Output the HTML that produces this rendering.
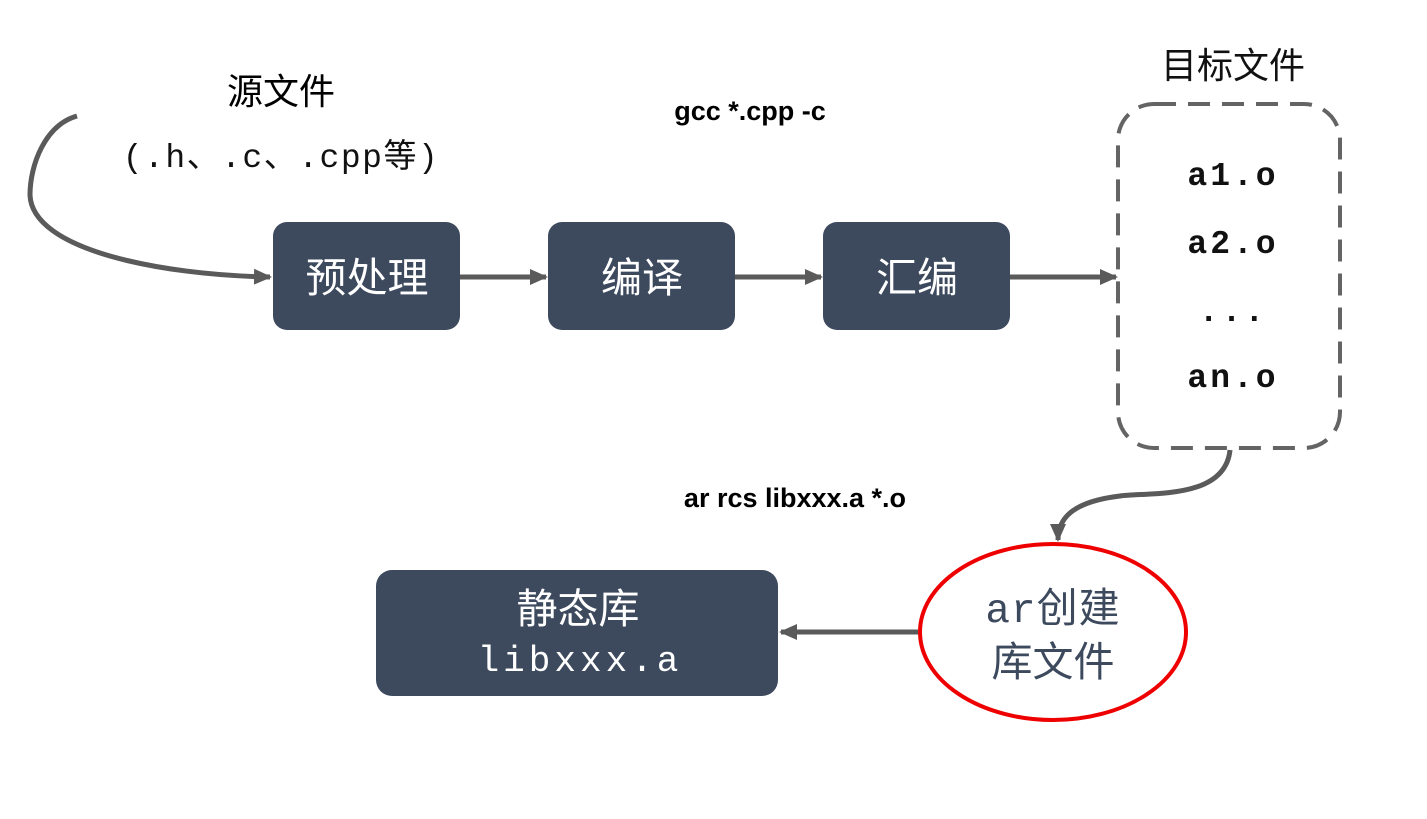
<!DOCTYPE html>
<html><head><meta charset="utf-8"><style>
body{margin:0;background:#fff;}
svg{display:block;}
.cj{font-family:"Liberation Sans","Noto Sans CJK SC",sans-serif;}
.mo{font-family:"Liberation Mono","Noto Sans CJK SC",monospace;}
</style></head><body>
<svg width="1427" height="819" viewBox="0 0 1427 819" xmlns="http://www.w3.org/2000/svg">
<defs>
<marker id="ah2" markerWidth="18" markerHeight="16" refX="16" refY="8" orient="auto" markerUnits="userSpaceOnUse" viewBox="0 0 18 16">
<path d="M0,0 L18,8 L0,16 z" fill="#5a5a5a"/>
</marker>
</defs>
<g fill="#3d4a5e">
<rect x="273" y="222" width="187" height="108" rx="14"/>
<rect x="548" y="222" width="187" height="108" rx="14"/>
<rect x="823" y="222" width="187" height="108" rx="14"/>
<rect x="376" y="570" width="402" height="126" rx="16"/>
</g>
<rect x="1118" y="104" width="222" height="344" rx="36" fill="none" stroke="#646464" stroke-width="4" stroke-dasharray="22,12"/>
<ellipse cx="1053" cy="632" rx="133" ry="88" fill="#fff" stroke="#ee0000" stroke-width="4"/>
<g stroke="#5a5a5a" stroke-width="5" fill="none">
<path d="M77,116 C45,125 30,165 30,195 C32,250 160,275 270,277" marker-end="url(#ah2)"/>
<line x1="460" y1="277" x2="546" y2="277" marker-end="url(#ah2)"/>
<line x1="735" y1="277" x2="821" y2="277" marker-end="url(#ah2)"/>
<line x1="1010" y1="277" x2="1116" y2="277" marker-end="url(#ah2)"/>
<path d="M1230,450 C1225,500 1150,492 1120,496 C1070,502 1058,520 1058,540" marker-end="url(#ah2)"/>
<line x1="918" y1="632" x2="781" y2="632" marker-end="url(#ah2)"/>
</g>
<text class="cj" x="281" y="104" font-size="36" text-anchor="middle" fill="#000">源文件</text>
<text class="mo" x="281" y="167" font-size="33" letter-spacing="1.5" text-anchor="middle" fill="#111">(.h、.c、.cpp等)</text>
<text class="cj" x="750" y="120" font-size="27" font-weight="bold" text-anchor="middle" fill="#000">gcc *.cpp -c</text>
<text class="cj" x="1233" y="78" font-size="36" text-anchor="middle" fill="#111">目标文件</text>
<g class="mo" font-size="33" font-weight="bold" text-anchor="middle" fill="#111" letter-spacing="3">
<text x="1233" y="185">a1.o</text>
<text x="1233" y="253">a2.o</text>
<text x="1233" y="321">...</text>
<text x="1233" y="387">an.o</text>
</g>
<text class="cj" x="795" y="507" font-size="27" font-weight="bold" text-anchor="middle" fill="#000">ar rcs libxxx.a *.o</text>
<g class="cj" font-size="41" fill="#fff" text-anchor="middle">
<text x="367" y="292">预处理</text>
<text x="642" y="292">编译</text>
<text x="917" y="292">汇编</text>
<text x="578" y="623">静态库</text>
</g>
<text class="mo" x="580" y="671" font-size="36" letter-spacing="4" fill="#fff" text-anchor="middle">libxxx.a</text>
<text class="mo" x="1053" y="622" font-size="41" letter-spacing="1" fill="#3d4a5e" text-anchor="middle">ar创建</text>
<text class="cj" x="1053" y="676" font-size="41" fill="#3d4a5e" text-anchor="middle">库文件</text>
</svg>
</body></html>
